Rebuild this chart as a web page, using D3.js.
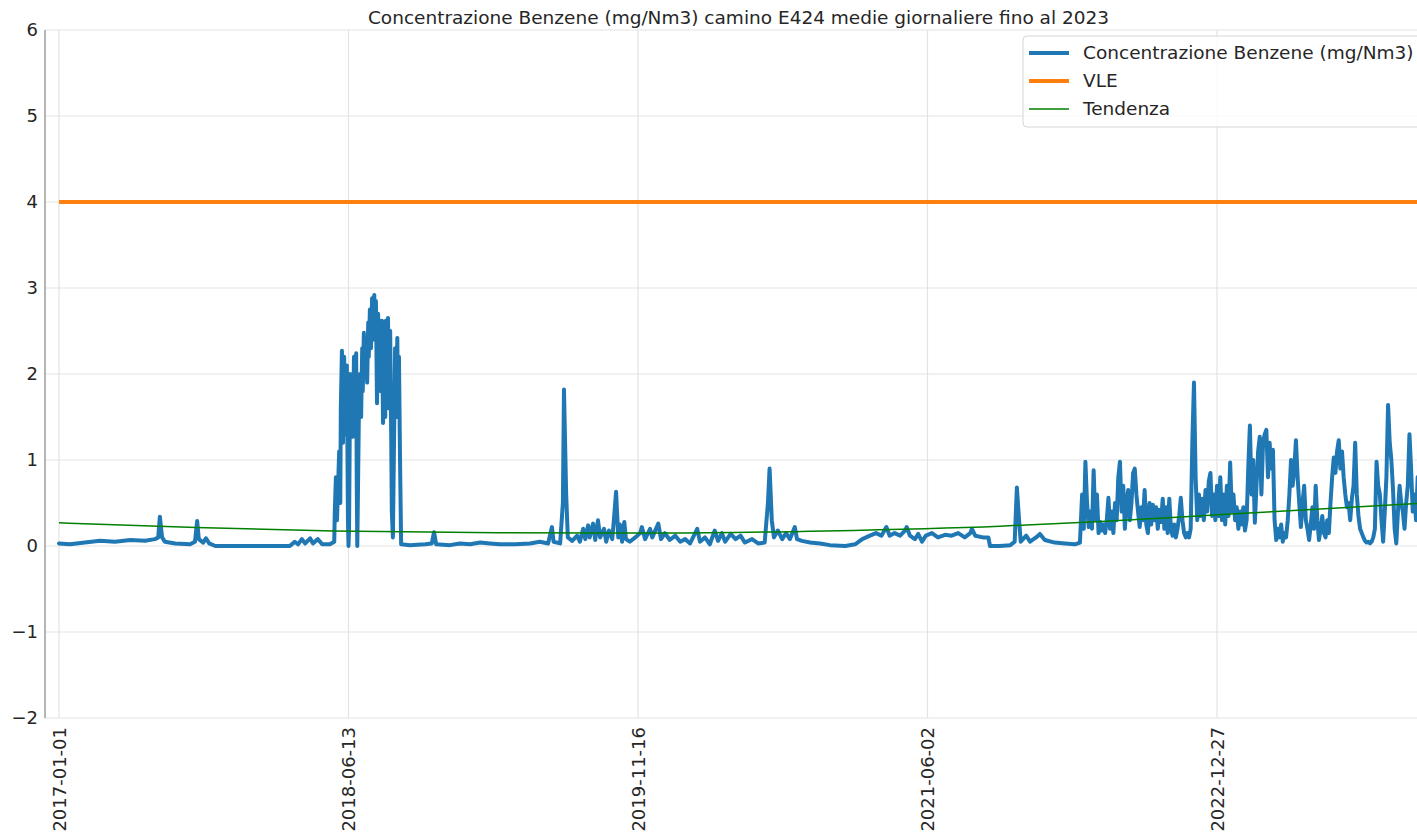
<!DOCTYPE html>
<html>
<head>
<meta charset="utf-8">
<script src="https://cdn.jsdelivr.net/npm/d3@7"></script>
<style>
  html, body { margin: 0; padding: 0; background: #fff; overflow: hidden; }
  svg { display: block; font-family: "DejaVu Sans", sans-serif; }
</style>
</head>
<body>
<svg id="chart" width="1460" height="839"></svg>
<script>
// ---------- DATA ----------
const titleText = "Concentrazione Benzene (mg/Nm3) camino E424 medie giornaliere fino al 2023";
const tickIdx = [0, 528, 1056, 1584, 2112];
const tickLabels = ["2017-01-01", "2018-06-13", "2019-11-16", "2021-06-02", "2022-12-27"];
const yTicks = [-2, -1, 0, 1, 2, 3, 4, 5, 6];

// sample index (daily records) of the blue series, 2017 -> 2021
const sampleIdx = [
  0,20,47,75,102,130,157,175,181,184,188,193,212,239,248,252,255,263,268,274,285,348,421,430,436,443,449,458,463,472,480,494,
  502,503,505,507,509,511,513,514,516,518,520,522,523,525,527,528,529,531,533,534,536,538,540,542,543,544,545,547,549,551,553,554,556,558,560,
  562,564,565,567,569,571,573,575,576,578,580,582,584,585,587,589,591,593,595,596,598,600,602,604,606,607,609,611,613,615,617,618,620,622,624,
  640,668,680,684,688,713,731,750,768,786,804,832,859,877,892,899,902,914,919,921,925,928,936,945,950,956,960,965,968,974,978,983,987,994,998,
  1003,1009,1012,1016,1020,1023,1027,1031,1034,1041,1051,1060,1063,1069,1078,1082,1093,1098,1105,1114,1124,1133,1142,1151,1164,1169,1178,1187,
  1196,1202,1209,1215,1225,1234,1243,1251,1264,1275,1287,1293,1296,1300,1304,1311,1319,1326,1333,1342,1346,1355,1370,1388,1406,1434,1452,1465,
  1479,1490,1500,1509,1515,1524,1534,1543,1546,1552,1561,1567,1574,1581,1592,1603,1616,1628,1640,1652,1662,1665,1671,1685,1695,1698,1716,1735,
  1743,1747,1751,1754,1764,1771,1782,1789,1798,1816,1835,1853,1862
];
// Concentrazione Benzene (mg/Nm3), same records as sampleIdx
const benzene = [
  0.03,0.02,0.04,0.06,0.05,0.07,0.06,0.08,0.10,0.34,0.10,0.05,0.03,0.02,0.05,0.29,0.08,0.04,0.09,0.03,0.00,0.00,0.00,0.05,0.02,0.08,0.03,0.09,0.03,0.08,0.02,0.02,
  0.05,0.40,0.80,0.30,0.70,1.10,0.50,1.60,2.27,1.20,2.20,1.30,1.90,2.10,0.30,0.00,0.20,2.00,1.40,1.90,1.27,2.20,1.80,2.24,0.80,0.00,0.50,1.60,2.00,1.50,2.30,1.80,2.48,2.00,2.40,
  1.90,2.60,2.20,2.75,2.30,2.88,2.40,2.92,2.50,2.85,1.66,2.70,2.00,2.62,1.80,2.62,1.43,2.55,1.50,2.62,1.90,2.65,1.60,2.50,1.20,0.40,0.10,1.20,2.30,1.50,2.42,1.80,2.20,1.00,0.02,
  0.01,0.02,0.03,0.16,0.02,0.01,0.03,0.02,0.04,0.03,0.02,0.02,0.03,0.05,0.03,0.22,0.05,0.03,0.50,1.82,0.60,0.10,0.06,0.12,0.05,0.20,0.08,0.24,0.10,0.26,0.07,0.30,0.10,0.20,0.05,
  0.18,0.08,0.30,0.63,0.10,0.25,0.05,0.28,0.08,0.05,0.10,0.15,0.22,0.08,0.20,0.10,0.26,0.08,0.15,0.07,0.12,0.05,0.08,0.03,0.20,0.05,0.10,0.02,
  0.18,0.06,0.15,0.05,0.14,0.08,0.12,0.04,0.08,0.03,0.04,0.50,0.90,0.30,0.10,0.18,0.08,0.15,0.08,0.22,0.08,0.06,0.04,0.03,0.01,0.00,0.02,0.08,
  0.12,0.15,0.12,0.22,0.12,0.15,0.12,0.18,0.22,0.12,0.08,0.14,0.05,0.12,0.15,0.10,0.13,0.12,0.15,0.10,0.15,0.20,0.12,0.10,0.10,0.00,0.00,0.01,
  0.05,0.68,0.30,0.05,0.12,0.05,0.10,0.14,0.07,0.04,0.03,0.02,0.04
];
// dense records 2021 -> 2023: first record index and spacing between records
const tailStart = 1866, tailStep = 3;
const benzeneTail = [
  0.60,0.20,0.98,0.50, 0.22,0.40,0.20, 0.88,0.30,0.60, 0.15,0.28,0.18,0.25,0.15,0.30, 0.56,0.20,0.40, 0.15,0.50,0.30,
  0.80,0.98,0.40, 0.70,0.20,0.50, 0.65,0.30,0.50, 0.85,0.90,0.60, 0.40,0.22,0.45, 0.30,0.65,0.25, 0.15,0.50,0.25,
  0.48,0.30,0.45, 0.20,0.42,0.28, 0.55,0.20,0.45, 0.15,0.55,0.20, 0.12,0.25,0.10, 0.20,0.35,0.56, 0.30,0.15,0.10,
  0.15,0.10,0.20, 1.20,1.90,0.80, 0.30,0.60,0.35, 0.55,0.30,0.65, 0.40,0.75,0.85, 0.35,0.60,0.30, 0.70,0.35,0.80,
  0.30,0.60,0.25, 0.70,0.35,0.97, 0.40,0.60,0.30, 0.45,0.20,0.40, 0.25,0.45,0.18, 0.30,0.90,1.40, 0.60,1.00,0.27,
  0.70,1.10,1.27, 0.60,1.20,1.30, 1.35,0.80,1.20, 0.90,1.12,0.30, 0.07,0.20,0.10, 0.25,0.05,0.15, 0.10,0.30,0.60,
  1.00,0.70,0.90, 1.23,0.80,0.50, 0.22,0.50,0.70, 0.30,0.20,0.07, 0.25,0.45,0.20, 0.70,0.30,0.07, 0.20,0.35,0.15,
  0.10,0.30,0.15, 0.50,0.80,1.03, 0.85,1.10,1.23, 0.90,1.10,0.80, 0.60,0.45,0.50, 0.30,0.55,0.70, 1.20,0.60,0.35,
  0.20,0.15,0.10, 0.06,0.04,0.05, 0.03,0.05,0.10, 0.20,0.98,0.70, 0.60,0.30,0.05, 0.40,0.80,1.64, 1.20,1.00,0.66,
  0.20,0.03,0.40, 0.70,0.50,0.40, 0.20,0.50,0.70, 1.30,0.90,0.40, 0.60,0.30,0.80, 0.40,0.60,0.30,0.50,0.35,0.70,0.40,0.50
];
// VLE (limit value)
const vleIdx = [0, 2510];
const vle = [4, 4];
// Tendenza (trend)
const trendIdx = [0, 250, 500, 800, 1100, 1400, 1716, 1900, 2130, 2300, 2510];
const trend = [0.27, 0.215, 0.175, 0.155, 0.15, 0.175, 0.23, 0.285, 0.37, 0.43, 0.505];

const legendLabels = ["Concentrazione Benzene (mg/Nm3)", "VLE", "Tendenza"];
const colors = ["#1f77b4", "#ff7f0e", "#008000"];

// ---------- LAYOUT ----------
const svg = d3.select("#chart");
const mLeft = 45, mRight = 1432, mTop = 30, mBottom = 718;
const x = d3.scaleLinear().domain([0, 2112]).range([59, 1217]);
const y = d3.scaleLinear().domain([-2, 6]).range([mBottom, mTop]);
const textColor = "#262626";
const tickFont = 18, bigFont = 18.5;

svg.append("defs").append("clipPath").attr("id", "clip")
  .append("rect").attr("x", mLeft).attr("y", mTop - 5).attr("width", mRight - mLeft).attr("height", mBottom - mTop + 10);

// grid
const grid = svg.append("g");
grid.selectAll("line.h").data(yTicks).join("line")
  .attr("x1", mLeft).attr("x2", mRight)
  .attr("y1", d => y(d)).attr("y2", d => y(d))
  .attr("stroke", "#e3e3e3").attr("stroke-width", 1.2);
grid.selectAll("line.v").data(tickIdx).join("line")
  .attr("x1", d => x(d)).attr("x2", d => x(d))
  .attr("y1", mTop).attr("y2", mBottom)
  .attr("stroke", "#e3e3e3").attr("stroke-width", 1.2);

// left spine
svg.append("line").attr("x1", mLeft).attr("x2", mLeft).attr("y1", mTop).attr("y2", mBottom)
  .attr("stroke", "#b5b5b5").attr("stroke-width", 2);

// y axis labels
const yAxis = d3.axisLeft(y).tickValues(yTicks).tickSize(0).tickPadding(7).tickFormat(d3.format("d"));
const yg = svg.append("g").attr("transform", `translate(${mLeft},0)`).call(yAxis);
yg.select(".domain").remove();
yg.selectAll("text").attr("fill", textColor).style("font-size", tickFont + "px").style("font-family", "DejaVu Sans");

// x axis labels
const xAxis = d3.axisBottom(x).tickValues(tickIdx).tickSize(0).tickFormat((d, i) => tickLabels[i]);
const xg = svg.append("g").attr("transform", `translate(0,${mBottom})`).call(xAxis);
xg.select(".domain").remove();
xg.selectAll("text")
  .attr("fill", textColor).style("font-size", tickFont + "px").style("font-family", "DejaVu Sans")
  .attr("text-anchor", "end")
  .attr("transform", "rotate(-90)")
  .attr("x", -9).attr("y", 0).attr("dy", "0.35em");

// lines
const plot = svg.append("g").attr("clip-path", "url(#clip)");
const line = d3.line().x(d => x(d[0])).y(d => y(d[1]));
const trendLine = d3.line().x(d => x(d[0])).y(d => y(d[1])).curve(d3.curveMonotoneX);

const blueData = sampleIdx.map((d, i) => [d, benzene[i]])
  .concat(benzeneTail.map((v, i) => [tailStart + i * tailStep, v]));

plot.append("path")
  .datum(blueData)
  .attr("d", line).attr("fill", "none").attr("stroke", colors[0])
  .attr("stroke-width", 4).attr("stroke-linejoin", "round").attr("stroke-linecap", "round");
plot.append("path")
  .datum(vleIdx.map((d, i) => [d, vle[i]]))
  .attr("d", line).attr("fill", "none").attr("stroke", colors[1]).attr("stroke-width", 3.8);
plot.append("path")
  .datum(trendIdx.map((d, i) => [d, trend[i]]))
  .attr("d", trendLine).attr("fill", "none").attr("stroke", colors[2]).attr("stroke-width", 1.5);

// title
svg.append("text").attr("x", (mLeft + mRight) / 2).attr("y", 24)
  .attr("text-anchor", "middle").attr("fill", textColor)
  .style("font-size", bigFont + "px").text(titleText);

// legend
const lg = svg.append("g").attr("transform", "translate(1023,36)");
lg.append("rect").attr("x", 0).attr("y", 0).attr("width", 402).attr("height", 91)
  .attr("rx", 4).attr("fill", "white").attr("fill-opacity", 0.8)
  .attr("stroke", "#d6d6d6").attr("stroke-width", 1);
const widths = [3.8, 3.8, 1.5];
legendLabels.forEach((lab, i) => {
  const cy = 17 + i * 28;
  lg.append("line").attr("x1", 6).attr("x2", 46).attr("y1", cy).attr("y2", cy)
    .attr("stroke", colors[i]).attr("stroke-width", widths[i]);
  lg.append("text").attr("x", 60).attr("y", cy).attr("dy", "0.35em")
    .attr("fill", textColor).style("font-size", bigFont + "px").text(lab);
});
</script>
</body>
</html>
